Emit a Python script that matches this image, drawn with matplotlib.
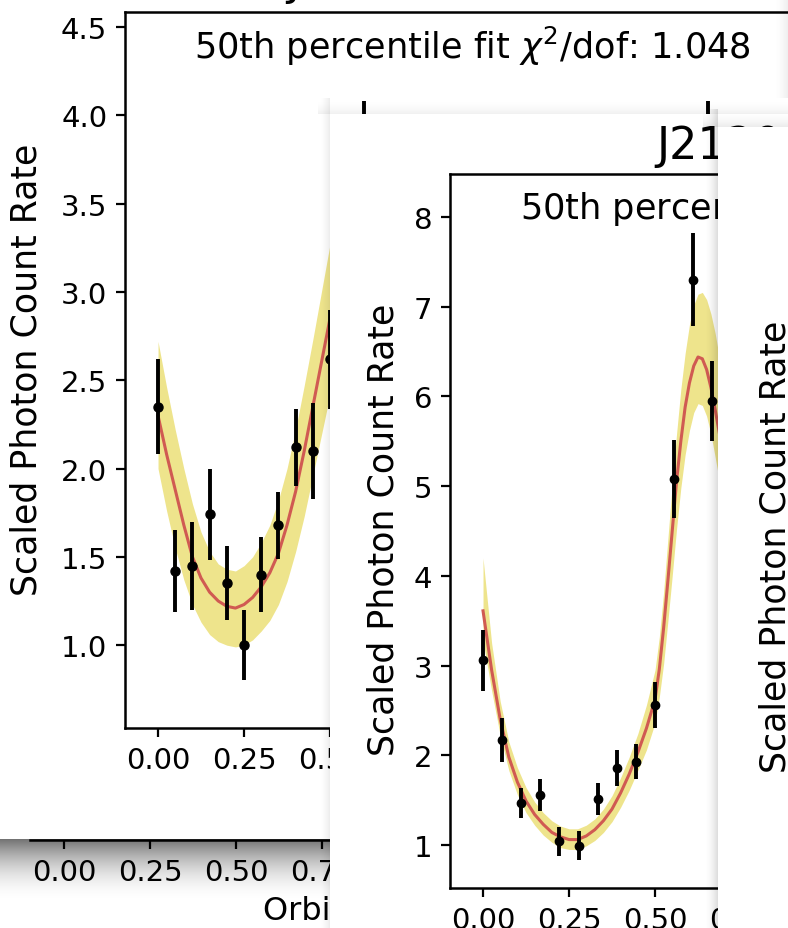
import matplotlib
matplotlib.use("Agg")
import matplotlib.pyplot as plt
import numpy as np
from matplotlib.ticker import MultipleLocator, FormatStrFormatter

# ---- panel A (back screenshot) ----
phase_a = [0.00, 0.05, 0.10, 0.15, 0.20, 0.25, 0.30, 0.35, 0.40, 0.45,
           0.50, 0.55, 0.60, 0.65, 0.70, 0.75, 0.80, 0.85, 0.90, 0.95]
rate_a = [2.35, 1.42, 1.45, 1.74, 1.35, 1.00, 1.40, 1.68, 2.12, 2.10,
          2.62, 3.30, 3.75, 3.60, 3.70, 3.55, 3.35, 3.05, 2.85, 2.60]
err_a = [0.27, 0.23, 0.25, 0.26, 0.21, 0.20, 0.21, 0.19, 0.22, 0.27,
         0.28, 0.30, 0.33, 0.30, 0.30, 0.30, 0.28, 0.27, 0.27, 0.26]

fit_ph_a = [0.000, 0.025, 0.050, 0.075, 0.100, 0.125, 0.150, 0.175, 0.200, 0.225, 0.250, 0.275,
            0.300, 0.325, 0.350, 0.375, 0.400, 0.425, 0.450, 0.475, 0.500, 0.525, 0.550]
fit_a = [2.30, 2.08, 1.88, 1.68, 1.50, 1.38, 1.30, 1.25, 1.22, 1.21, 1.23, 1.27,
         1.33, 1.41, 1.52, 1.68, 1.87, 2.10, 2.35, 2.60, 2.85, 3.10, 3.32]
band_lo_a = [2.00, 1.76, 1.55, 1.37, 1.23, 1.13, 1.06, 1.02, 1.00, 0.99, 1.00, 1.03,
             1.08, 1.14, 1.23, 1.36, 1.53, 1.73, 1.96, 2.19, 2.42, 2.65, 2.88]
band_hi_a = [2.72, 2.46, 2.22, 2.00, 1.80, 1.64, 1.53, 1.46, 1.43, 1.42, 1.45, 1.50,
             1.58, 1.68, 1.82, 2.00, 2.22, 2.47, 2.73, 3.00, 3.27, 3.53, 3.78]

# ---- panel B (front screenshot) ----
phase_b = [0.000, 0.056, 0.111, 0.167, 0.222, 0.278, 0.333, 0.389, 0.444,
           0.500, 0.556, 0.611, 0.667, 0.722, 0.778, 0.833, 0.889, 0.944]
rate_b = [3.06, 2.17, 1.47, 1.56, 1.04, 0.99, 1.51, 1.86, 1.93,
          2.56, 5.08, 7.30, 5.95, 5.40, 4.90, 4.50, 4.00, 3.60]
err_b = [0.34, 0.25, 0.17, 0.18, 0.16, 0.16, 0.18, 0.20, 0.19,
         0.26, 0.44, 0.52, 0.45, 0.42, 0.40, 0.38, 0.36, 0.34]

fit_ph_b = [0.000, 0.025, 0.050, 0.075, 0.100, 0.125, 0.150, 0.175, 0.200, 0.225,
            0.250, 0.275, 0.300, 0.325, 0.350, 0.375, 0.400, 0.425, 0.450, 0.475,
            0.500, 0.5125, 0.525, 0.5375, 0.550, 0.5625, 0.575, 0.5875, 0.600, 0.6125,
            0.625, 0.6375, 0.650, 0.6625, 0.675, 0.6875, 0.700, 0.7125, 0.725]
fit_b = [3.61, 2.95, 2.40, 1.98, 1.70, 1.49, 1.34, 1.23, 1.14, 1.09,
         1.06, 1.06, 1.10, 1.17, 1.27, 1.40, 1.58, 1.79, 2.03, 2.30,
         2.62, 2.96, 3.42, 3.95, 4.50, 5.05, 5.50, 5.88, 6.15, 6.34,
         6.44, 6.42, 6.30, 6.10, 5.85, 5.58, 5.30, 5.02, 4.75]
band_lo_b = [3.28, 2.72, 2.22, 1.83, 1.56, 1.36, 1.22, 1.11, 1.03, 0.97,
             0.95, 0.95, 0.99, 1.05, 1.14, 1.26, 1.42, 1.61, 1.83, 2.06,
             2.36, 2.65, 3.02, 3.50, 4.00, 4.52, 4.98, 5.35, 5.62, 5.82,
             5.92, 5.90, 5.78, 5.58, 5.32, 5.05, 4.76, 4.48, 4.20]
band_hi_b = [4.20, 3.25, 2.60, 2.15, 1.86, 1.64, 1.48, 1.36, 1.27, 1.21,
             1.18, 1.18, 1.22, 1.29, 1.40, 1.55, 1.75, 1.98, 2.24, 2.56,
             2.95, 3.32, 3.82, 4.42, 5.02, 5.58, 6.08, 6.48, 6.80, 7.02,
             7.14, 7.16, 7.08, 6.92, 6.70, 6.42, 6.12, 5.82, 5.50]

YLABEL = "Scaled Photon Count Rate"
XLABEL = "Orbital Phase"
SUB_A = r"50th percentile fit $\chi^2$/dof: 1.048"
SUB_B = r"50th percentile fit $\chi^2$/dof: 1.102"
TITLE_A = "J2129-0429, Swift"
TITLE_B = "J2129-0429"

BAND = "#eee48c"
FIT = "#d05a52"
TICK_FS = 21
LABEL_FS = 25
SUB_FS = 25.3

plt.rcParams["font.family"] = "DejaVu Sans"

W, H = 788, 929
fig = plt.figure(figsize=(W / 100, H / 100), dpi=100)


def box(l, t, w, h):
    return [l / W, 1 - (t + h) / H, w / W, h / H]


def fx(x):
    return x / W


def fy(y):
    return 1 - y / H


def card(l, t, w, h, z):
    ax = fig.add_axes(box(l, t, w, h), zorder=z)
    ax.set_facecolor("white")
    ax.set_xticks([])
    ax.set_yticks([])
    for s in ax.spines.values():
        s.set_visible(False)
    return ax


def shadow(l, t, w, h, z, side, strength):
    ax = fig.add_axes(box(l, t, w, h), zorder=z)
    ax.set_axis_off()
    n = 64
    r = np.linspace(0, 1, n)
    img = np.zeros((n, n, 4))
    if side == "down":
        a = strength * (1 - r) ** 2
        img[..., 3] = a[:, None]
    elif side == "up":
        a = strength * r ** 2
        img[..., 3] = a[:, None]
    else:  # left of a card
        a = strength * r ** 2
        img[..., 3] = a[None, :]
    ax.imshow(img, extent=[0, 1, 0, 1], aspect="auto", interpolation="bilinear")
    ax.set_xlim(0, 1)
    ax.set_ylim(0, 1)
    return ax


def style(ax, ystep, yfmt):
    ax.spines["right"].set_visible(False)
    for s in ax.spines.values():
        s.set_linewidth(1.8)
    ax.tick_params(labelsize=TICK_FS, length=6.8, width=1.6, pad=6)
    ax.xaxis.set_major_locator(MultipleLocator(0.25))
    ax.xaxis.set_major_formatter(FormatStrFormatter("%.2f"))
    ax.yaxis.set_major_locator(MultipleLocator(ystep))
    ax.yaxis.set_major_formatter(FormatStrFormatter(yfmt))


def draw_panel(ax, ph, rate, err, fph, fit, lo, hi, ms):
    ax.fill_between(fph, lo, hi, color=BAND, lw=0, zorder=1)
    ax.plot(fph, fit, color=FIT, lw=2.2, zorder=2)
    x = list(ph) + [p + 1 for p in ph]
    ax.errorbar(x, rate + rate, yerr=err + err, fmt="o", color="black",
                ms=ms, elinewidth=2.8, capsize=0, zorder=3)


# base screenshot (only its x axis shows under the shadow)
ax0 = fig.add_axes(box(30, 500, 760, 341), zorder=0)
ax0.set_xlim(-0.099, -0.099 + 760 / 344)
ax0.set_ylim(0, 1)
for k in ["left", "top", "right"]:
    ax0.spines[k].set_visible(False)
ax0.spines["bottom"].set_linewidth(1.8)
ax0.set_yticks([])
ax0.xaxis.set_major_locator(MultipleLocator(0.25))
ax0.xaxis.set_major_formatter(FormatStrFormatter("%.2f"))
ax0.tick_params(labelsize=TICK_FS, length=6.8, width=1.6, pad=6)
ax0.text(fx(263), fy(912), XLABEL, transform=fig.transFigure, fontsize=23,
         ha="left", va="center")

shadow(0, 840, 788, 65, 1, "down", 0.55)

# panel A
card(0, 0, 788, 840, 2)
axA = fig.add_axes(box(125, 13, 700, 716), zorder=3)
axA.set_xlim(-0.096, -0.096 + 700 / 344)
axA.set_ylim(0.531, 4.585)
style(axA, 0.5, "%.1f")
draw_panel(axA, phase_a, rate_a, err_a, fit_ph_a, fit_a, band_lo_a, band_hi_a, 6.5)
axA.text(fx(472), fy(46), SUB_A, transform=fig.transFigure, fontsize=SUB_FS,
         ha="center", va="center")
axA.text(fx(27), fy(370), YLABEL, transform=fig.transFigure, fontsize=LABEL_FS,
         rotation=90, ha="center", va="center")
axA.text(fx(287), fy(-5), TITLE_A, transform=fig.transFigure, fontsize=31,
         ha="left", va="baseline", clip_on=False)

# soft shadows of panel B card
shadow(318, 99, 12, 830, 4, "left", 0.08)
shadow(318, 99, 470, 16, 4, "up", 0.06)
shadow(772, 0, 16, 99, 4, "left", 0.07)

# panel B
card(330, 115, 500, 830, 5)
axB = fig.add_axes(box(450, 175, 600, 714), zorder=6)
axB.set_xlim(-0.096, -0.096 + 600 / 344)
axB.set_ylim(0.52, 8.48)
style(axB, 1, "%d")
draw_panel(axB, phase_b, rate_b, err_b, fit_ph_b, fit_b, band_lo_b, band_hi_b, 6)
axB.text(fx(520), fy(207), SUB_B, transform=fig.transFigure, fontsize=SUB_FS,
         ha="left", va="center")
axB.text(fx(656), fy(147), TITLE_B, transform=fig.transFigure, fontsize=32,
         ha="left", va="center")
axB.text(fx(383), fy(530), YLABEL, transform=fig.transFigure, fontsize=LABEL_FS,
         rotation=90, ha="center", va="center")

# panel C (right screenshot)
shadow(703, 110, 15, 819, 7, "left", 0.14)
shadow(703, 110, 85, 18, 7, "up", 0.08)
axC = card(718, 128, 200, 820, 8)
axC.text(fx(775), fy(547), YLABEL, transform=fig.transFigure, fontsize=LABEL_FS,
         rotation=90, ha="center", va="center")

fig.savefig("out.png", dpi=100)
